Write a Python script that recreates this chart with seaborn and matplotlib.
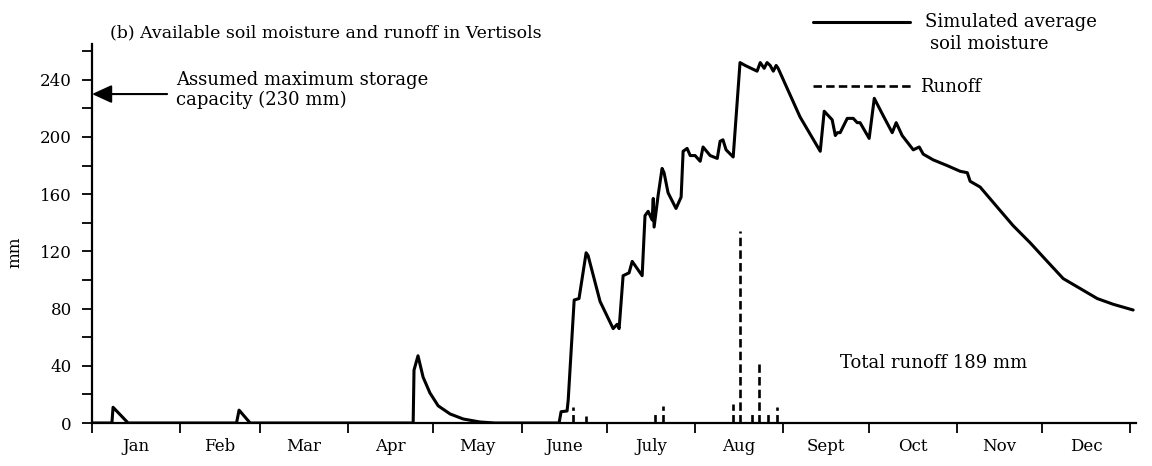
import matplotlib
matplotlib.use("Agg")
import matplotlib.pyplot as plt
from matplotlib.lines import Line2D
import seaborn as sns
import pandas as pd

# Simulated average available soil moisture (day of year, mm)
moist_day = [0, 7.0, 7.4, 12.7, 50.8, 51.7, 55.6, 112.9, 113.2, 114.6, 116.4, 118.8,
             121.7, 125.9, 130.5, 136.4, 141.7, 164.2, 164.9, 167.0, 167.4, 169.5,
             171.2, 173.7, 174.4, 178.6, 183.2, 184.6, 185.3, 186.7, 188.8, 189.9,
             193.4, 194.4, 195.5, 196.9, 197.3, 197.6, 199.0, 200.4, 201.1, 202.5,
             205.3, 207.1, 207.8, 209.2, 210.3, 212.0, 213.8, 214.8, 217.3, 219.8,
             220.8, 221.8, 222.9, 225.4, 227.8, 229.6, 233.8, 234.9, 236.3, 237.3,
             238.4, 239.5, 240.5, 241.2, 248.9, 256.0, 257.4, 260.2, 261.3, 262.0,
             263.0, 265.5, 267.6, 269.0, 270.0, 273.2, 275.0, 278.1, 281.3, 282.7,
             284.8, 288.7, 290.8, 292.2, 295.7, 300.6, 305.2, 307.7, 308.7, 312.2,
             318.2, 323.8, 329.8, 335.8, 341.4, 347.4, 353.4, 359.0, 366.0]
moist_mm = [0, 0, 11, 0, 0, 9, 0, 0, 37, 47, 32, 21,
            12, 6.3, 2.8, 0.7, 0, 0, 7.9, 8.4, 16, 86,
            87, 119, 117, 85, 66, 69, 66, 103, 105, 113,
            103, 145, 148, 142, 157, 137, 159, 178, 175, 161,
            150, 158, 190, 192, 187, 187, 183, 193, 187, 185,
            197, 198, 191, 186, 252, 250, 246, 252, 248, 252,
            250, 246, 250, 248, 214, 190, 218, 212, 201, 203,
            203, 213, 213, 210, 210, 199, 227, 215, 203, 210,
            201, 191, 193, 188, 184, 180, 176, 175, 169, 165,
            151, 138, 126, 113, 101, 94, 87, 83, 79]

# Runoff events (day of year, mm)
runoff_day = [169.1, 173.7, 198.0, 200.8, 225.4, 227.8, 232.1, 234.5, 237.7, 240.9]
runoff_mm = [11, 5, 6, 12, 13, 134, 7, 41, 8, 11]

month_start = [0, 31, 59, 90, 120, 151, 181, 212, 243, 273, 304, 334, 365]
month_labels = ["Jan", "Feb", "Mar", "Apr", "May", "June", "July", "Aug",
                "Sept", "Oct", "Nov", "Dec"]

max_storage = 230

sns.set_theme(style="ticks")
plt.rcParams["font.family"] = ["DejaVu Serif"]
plt.rcParams.update({"text.color": "black", "axes.labelcolor": "black",
                     "xtick.color": "black", "ytick.color": "black"})

fig = plt.figure(figsize=(11.52, 4.66), dpi=100)
ax = fig.add_axes([92 / 1152, 1 - 423 / 466, 1044 / 1152, 379 / 466])

moist = pd.DataFrame({"day": moist_day, "mm": moist_mm})
sns.lineplot(data=moist, x="day", y="mm", sort=False, estimator=None,
             color="black", lw=2.2, ax=ax)
runoff_style = (0, (3.2, 1.6))
ax.vlines(runoff_day, 0, runoff_mm, colors="black", lw=1.9,
          linestyles=[runoff_style])

ax.set_xlim(0, 367)
ax.set_ylim(0, 265)
sns.despine(ax=ax)
for s in ("left", "bottom"):
    ax.spines[s].set_linewidth(1.6)
    ax.spines[s].set_color("black")

ax.set_xticks(month_start)
ax.set_xticklabels([])
mid = [(a + b) / 2 for a, b in zip(month_start[:-1], month_start[1:])]
ax.set_xticks(mid, minor=True)
ax.set_xticklabels(month_labels, minor=True, fontsize=12)
ax.tick_params(axis="x", which="major", direction="out", length=7.5, width=1.3)
ax.tick_params(axis="x", which="minor", length=0, pad=11)

ax.set_yticks(range(0, 241, 40))
ax.set_yticks(range(20, 261, 40), minor=True)
ax.tick_params(axis="y", which="both", direction="out", length=7.5, width=1.3,
               labelsize=12, pad=7)

ax.set_xlabel("")
ax.set_ylabel("mm", fontsize=12)
ax.yaxis.set_label_coords(-0.066, 0.45)

# Maximum storage capacity marker
ax.annotate("", xy=(0, max_storage), xytext=(26.4, max_storage),
            arrowprops=dict(arrowstyle="-|>,head_length=1.2,head_width=0.55",
                            mutation_scale=10, lw=1.5, color="black",
                            shrinkA=0, shrinkB=0),
            annotation_clip=False)
ax.text(29.5, max_storage + 3, "Assumed maximum storage\ncapacity (230 mm)",
        fontsize=13, va="center", ha="left", linespacing=1.15)

ax.text(263, 42, "Total runoff 189 mm", fontsize=13, va="center", ha="left")

fig.text(110 / 1152, 1 - 33 / 466,
         "(b) Available soil moisture and runoff in Vertisols",
         fontsize=12.5, va="center", ha="left")

# Key for the two series
fig.add_artist(Line2D([813 / 1152, 910 / 1152], [1 - 22 / 466] * 2,
                      transform=fig.transFigure, color="black", lw=2.2))
fig.add_artist(Line2D([813 / 1152, 913 / 1152], [1 - 86 / 466] * 2,
                      transform=fig.transFigure, color="black", lw=1.9,
                      linestyle=runoff_style))
fig.text(925 / 1152, 1 - 22 / 466, "Simulated average", fontsize=13,
         va="center", ha="left")
fig.text(930 / 1152, 1 - 44 / 466, "soil moisture", fontsize=13,
         va="center", ha="left")
fig.text(920 / 1152, 1 - 87 / 466, "Runoff", fontsize=13,
         va="center", ha="left")

fig.savefig("out.png", dpi=100, facecolor="white")
